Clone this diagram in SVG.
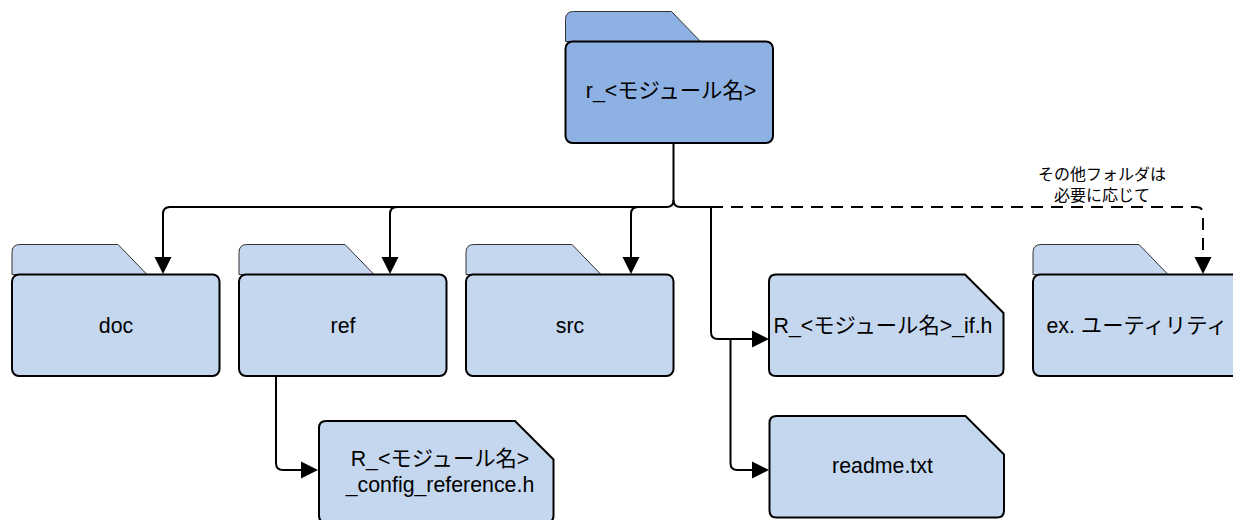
<svg xmlns="http://www.w3.org/2000/svg" width="1233" height="520" viewBox="0 0 1233 520">
<style>
text{font-family:"Liberation Sans","Noto Sans CJK JP",sans-serif;font-size:21.330px;fill:#000;text-anchor:middle}
.s{font-size:16px}
.l{fill:#c5d7ef}.d{fill:#8eb1e3}
.b{stroke:#000;stroke-width:2}
.tab{stroke:#333;stroke-width:1}
.c{fill:none;stroke:#000;stroke-width:2}
.t{stroke-dasharray:12 8}
.a{fill:#000;stroke:none}
</style>
<defs>
<path id="tab" d="M0 30V8Q0 0 8 0H106L135 30Z"/>
<rect id="body" width="207.500" height="101.500" rx="7"/>
<path id="file" d="M7 0H196L234.500 38.500V94.500Q234.500 101.500 227.500 101.500H7Q0 101.500 0 94.500V7Q0 0 7 0Z"/>
<path id="ah" d="M-8.500 -17H8.500L0 0Z"/>
</defs>
<g id="connectors">
<path class="c" d="M673.500 143V200Q673.500 207 666.500 207H170Q163 207 163 214V260"/>
<path class="c" d="M397 207Q390 207 390 214V260"/>
<path class="c" d="M638 207Q631 207 631 214V260"/>
<path class="c" d="M673.500 200Q673.500 207 680.500 207H711"/>
<path class="c t" d="M711 207H1196Q1203 207 1203 214V260"/>
<path class="c" d="M711 207V332Q711 339 718 339H755"/>
<path class="c" d="M730.500 339V463Q730.500 470 737.500 470H755"/>
<path class="c" d="M276 376V463Q276 470 283 470H305"/>
<use href="#ah" class="a" x="163" y="274"/>
<use href="#ah" class="a" x="390" y="274"/>
<use href="#ah" class="a" x="631" y="274"/>
<use href="#ah" class="a" x="1203" y="274"/>
<use href="#ah" class="a" transform="translate(769 339) rotate(-90)"/>
<use href="#ah" class="a" transform="translate(769 470) rotate(-90)"/>
<use href="#ah" class="a" transform="translate(318 470) rotate(-90)"/>
</g>
<g id="root" transform="translate(565.500 11.500)"><use href="#tab" class="d tab"/><use href="#body" class="d b" y="30"/><text x="105.500" y="86.500">r_&lt;モジュール名&gt;</text></g>
<g id="doc" transform="translate(12 244.500)"><use href="#tab" class="l tab"/><use href="#body" class="l b" y="30"/><text x="104" y="88">doc</text></g>
<g id="ref" transform="translate(239 244.500)"><use href="#tab" class="l tab"/><use href="#body" class="l b" y="30"/><text x="104" y="88">ref</text></g>
<g id="src" transform="translate(466 244.500)"><use href="#tab" class="l tab"/><use href="#body" class="l b" y="30"/><text x="104" y="88">src</text></g>
<g id="ex" transform="translate(1033 244.500)"><use href="#tab" class="l tab"/><use href="#body" class="l b" y="30"/><text x="104" y="88">ex. ユーティリティ</text></g>
<g id="if" transform="translate(769 274.500)"><use href="#file" class="l b"/><text x="114" y="58">R_&lt;モジュール名&gt;_if.h</text></g>
<g id="readme" transform="translate(769.500 416)"><use href="#file" class="l b"/><text x="113" y="57">readme.txt</text></g>
<g id="config" transform="translate(319 421)"><use href="#file" class="l b"/><text x="121" y="45">R_&lt;モジュール名&gt;</text><text x="121" y="70.500">_config_reference.h</text></g>
<g id="note"><text class="s" x="1102" y="180">その他フォルダは</text><text class="s" x="1102" y="201">必要に応じて</text></g>
</svg>
